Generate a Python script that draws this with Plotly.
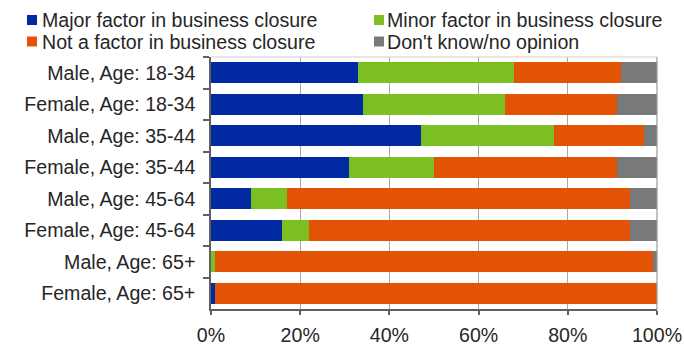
import plotly.graph_objects as go

# Survey groups, top to bottom
groups = [
    "Male, Age: 18-34",
    "Female, Age: 18-34",
    "Male, Age: 35-44",
    "Female, Age: 35-44",
    "Male, Age: 45-64",
    "Female, Age: 45-64",
    "Male, Age: 65+",
    "Female, Age: 65+",
]

# Share of respondents (%) per answer
major_factor = [33, 34, 47, 31, 9, 16, 0, 1]
minor_factor = [35, 32, 30, 19, 8, 6, 1, 0]
not_a_factor = [24, 25, 20, 41, 77, 72, 98, 99]
dont_know = [8, 9, 3, 9, 6, 6, 1, 0]

series_names = [
    "Major factor in business closure",
    "Minor factor in business closure",
    "Not a factor in business closure",
    "Don't know/no opinion",
]
series_values = [major_factor, minor_factor, not_a_factor, dont_know]
series_colors = ["#0029A2", "#7BBF22", "#E35306", "#77797B"]

x_ticks = [0, 20, 40, 60, 80, 100]
x_tick_labels = ["0%", "20%", "40%", "60%", "80%", "100%"]

W, H = 684, 346
ML, MR, MT, MB = 211, 27, 57, 37
PW, PH = W - ML - MR, H - MT - MB

FONT = "Liberation Sans, Arial, sans-serif"
FS = 19.6
TXT = "#262626"


def px_x(px):
    return (px - ML) / PW


def px_y(py):
    return 1 - (py - MT) / PH


fig = go.Figure()
for name, vals, col in zip(series_names, series_values, series_colors):
    fig.add_trace(go.Bar(
        y=groups, x=vals, name=name, orientation="h",
        marker=dict(color=col, line=dict(width=0)),
        showlegend=False,
    ))

# Legend drawn as two columns of swatches + labels
legend_pos = [(27, 42, 20), (374, 387, 20), (27, 42, 41.5), (374, 387, 41.5)]
shapes = []
annotations = []
for (sx, tx, cy), name, col in zip(legend_pos, series_names, series_colors):
    shapes.append(dict(
        type="rect", xref="paper", yref="paper",
        x0=px_x(sx), x1=px_x(sx + 10), y0=px_y(cy + 5), y1=px_y(cy - 5),
        fillcolor=col, line=dict(width=0), layer="above",
    ))
    annotations.append(dict(
        text=name, xref="paper", yref="paper", x=px_x(tx - 2), y=px_y(cy),
        xanchor="left", yanchor="middle", showarrow=False,
        font=dict(family=FONT, size=FS, color=TXT),
    ))

# Light frame on top and right of the plot area
shapes.append(dict(type="line", xref="paper", yref="paper", x0=0, x1=1, y0=1, y1=1,
                   line=dict(color="#cfcfcf", width=1), layer="above"))
shapes.append(dict(type="line", xref="paper", yref="paper", x0=1, x1=1, y0=0, y1=1,
                   line=dict(color="#9a9a9a", width=1.2), layer="above"))

fig.update_layout(
    barmode="stack",
    bargap=0.325,
    width=W, height=H,
    margin=dict(l=ML, r=MR, t=MT, b=MB, pad=0, autoexpand=False),
    paper_bgcolor="white", plot_bgcolor="white",
    font=dict(family=FONT, size=FS, color=TXT),
    shapes=shapes,
    annotations=annotations,
    xaxis=dict(
        range=[0, 100], tickvals=x_ticks, ticktext=x_tick_labels,
        showgrid=True, gridcolor="#a8a8a8", gridwidth=1,
        showline=True, linecolor="#5f5f5f", linewidth=1.5,
        ticks="outside", ticklen=4, tickcolor="#5f5f5f", tickwidth=1.5,
        zeroline=False, fixedrange=True, automargin=False,
        ticklabelstandoff=4,
        tickfont=dict(family=FONT, size=FS, color=TXT),
    ),
    yaxis=dict(
        categoryorder="array", categoryarray=groups, autorange="reversed",
        showline=True, linecolor="#5f5f5f", linewidth=1.5,
        ticks="outside", tickson="boundaries", ticklen=6,
        tickcolor="#5f5f5f", tickwidth=1.5,
        showgrid=False, zeroline=False, fixedrange=True, automargin=False,
        ticklabelstandoff=10,
        tickfont=dict(family=FONT, size=FS, color=TXT),
    ),
)

fig.write_html("out.html")
